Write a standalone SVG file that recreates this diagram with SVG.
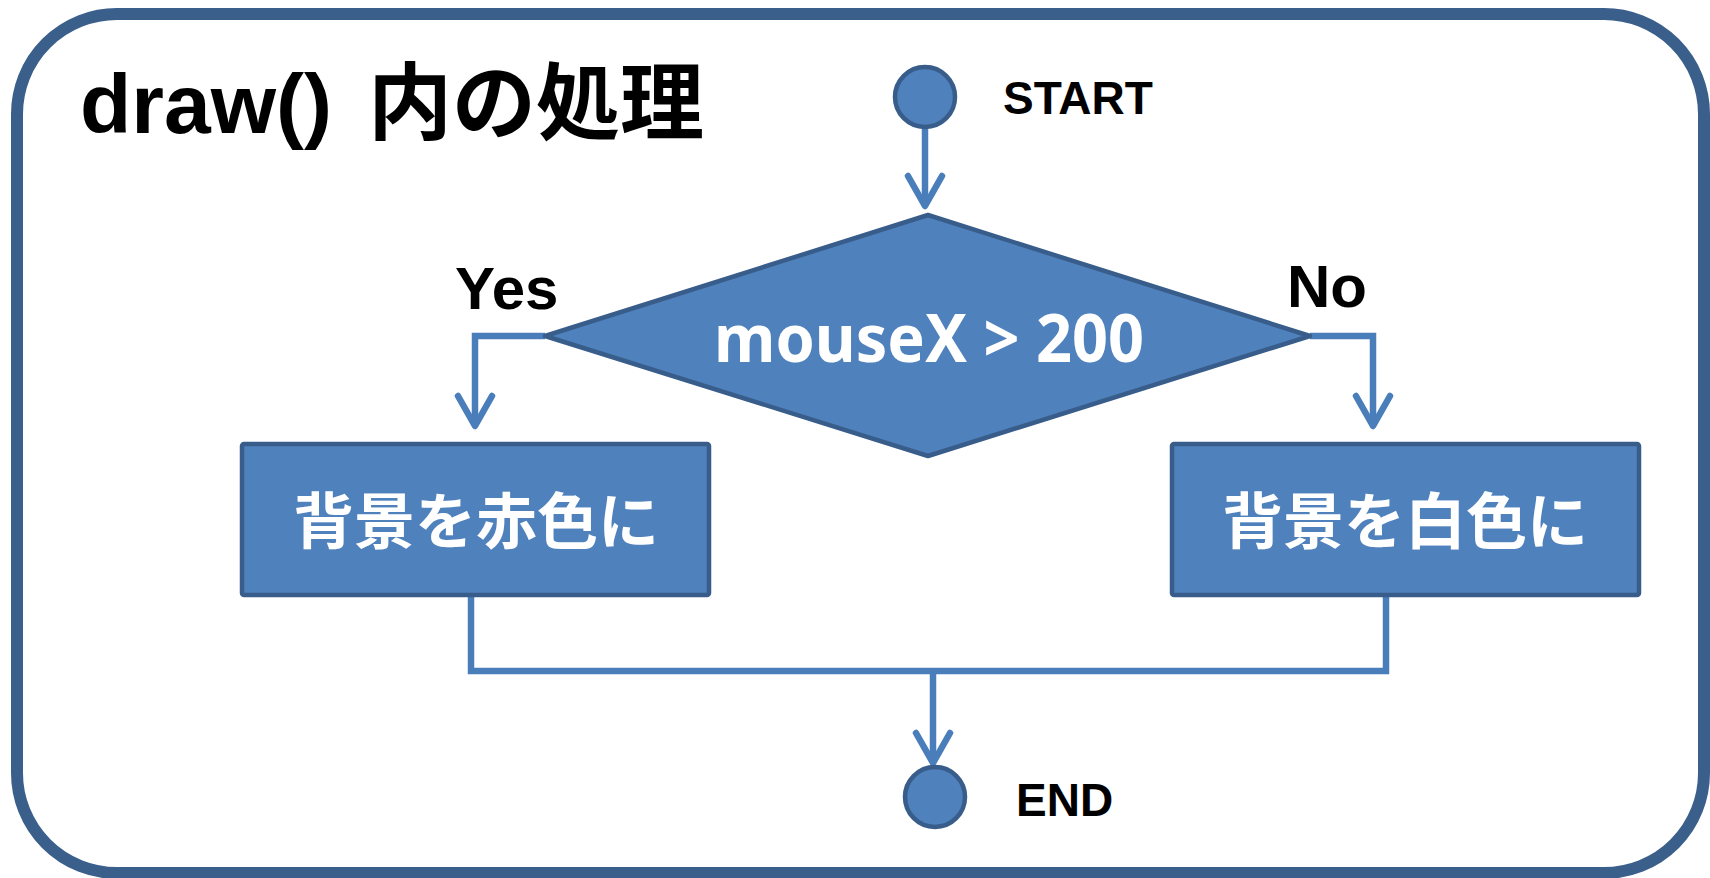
<svg xmlns="http://www.w3.org/2000/svg" width="1710" height="878" viewBox="0 0 1710 878">
<defs>
<style>
.shape{fill:#4F81BD;stroke:#385D8A;stroke-width:4.5;stroke-linejoin:round}
.conn{fill:none;stroke:#4A7EBB;stroke-width:6.5;stroke-linejoin:miter}
.lbl{font-family:"Liberation Sans",Arial,sans-serif;font-weight:bold;fill:#000}
.jp{font-family:"Noto Sans CJK JP","Noto Sans",sans-serif;font-weight:bold;fill:#fff}
</style>
<marker id="arr" markerUnits="userSpaceOnUse" markerWidth="40" markerHeight="40" refX="0" refY="0" orient="auto" overflow="visible">
<path d="M-30,-17 L0,0 L-30,17" fill="none" stroke="#4A7EBB" stroke-width="6.5" stroke-linecap="round" stroke-linejoin="round"/>
</marker>
</defs>
<rect width="1710" height="878" fill="#fff"/>
<g id="frame">
<rect x="17" y="14" width="1687" height="859" rx="100" ry="100" fill="#fff" stroke="#3A5F8B" stroke-width="12"/>
<text class="lbl" x="80" y="133" font-size="84">draw()<tspan x="368" font-family="'Noto Sans CJK JP',sans-serif" font-size="84">内の処理</tspan></text>
</g>
<g id="connectors">
<path class="conn" d="M925,128 L925,206" marker-end="url(#arr)"/>
<path class="conn" d="M545,336 L475,336 L475,426" marker-end="url(#arr)"/>
<path class="conn" d="M1310,336 L1373,336 L1373,426" marker-end="url(#arr)"/>
<path class="conn" d="M471,595 L471,671 L1386,671 L1386,595"/>
<path class="conn" d="M933,671 L933,763" marker-end="url(#arr)"/>
</g>
<g id="start">
<circle class="shape" cx="925" cy="97" r="30"/>
<text class="lbl" x="1003" y="114" font-size="46">START</text>
</g>
<g id="decision">
<polygon class="shape" points="928,215 1310,336 928,456 545,336"/>
<text x="929" y="362" text-anchor="middle" font-family="'Noto Sans','Open Sans',sans-serif" font-weight="bold" font-size="66" fill="#fff" textLength="430" lengthAdjust="spacingAndGlyphs">mouseX &gt; 200</text>
</g>
<g id="yes-label"><text class="lbl" x="455" y="309" font-size="60">Yes</text></g>
<g id="no-label"><text class="lbl" x="1287" y="307" font-size="60">No</text></g>
<g id="red">
<rect class="shape" x="242" y="444" width="467" height="151" rx="2"/>
<text class="jp" x="476" y="544" text-anchor="middle" font-size="61">背景を赤色に</text>
</g>
<g id="white">
<rect class="shape" x="1172" y="444" width="467" height="151" rx="2"/>
<text class="jp" x="1405" y="544" text-anchor="middle" font-size="61">背景を白色に</text>
</g>
<g id="end">
<circle class="shape" cx="935" cy="797" r="30"/>
<text class="lbl" x="1016" y="816" font-size="46">END</text>
</g>
</svg>
